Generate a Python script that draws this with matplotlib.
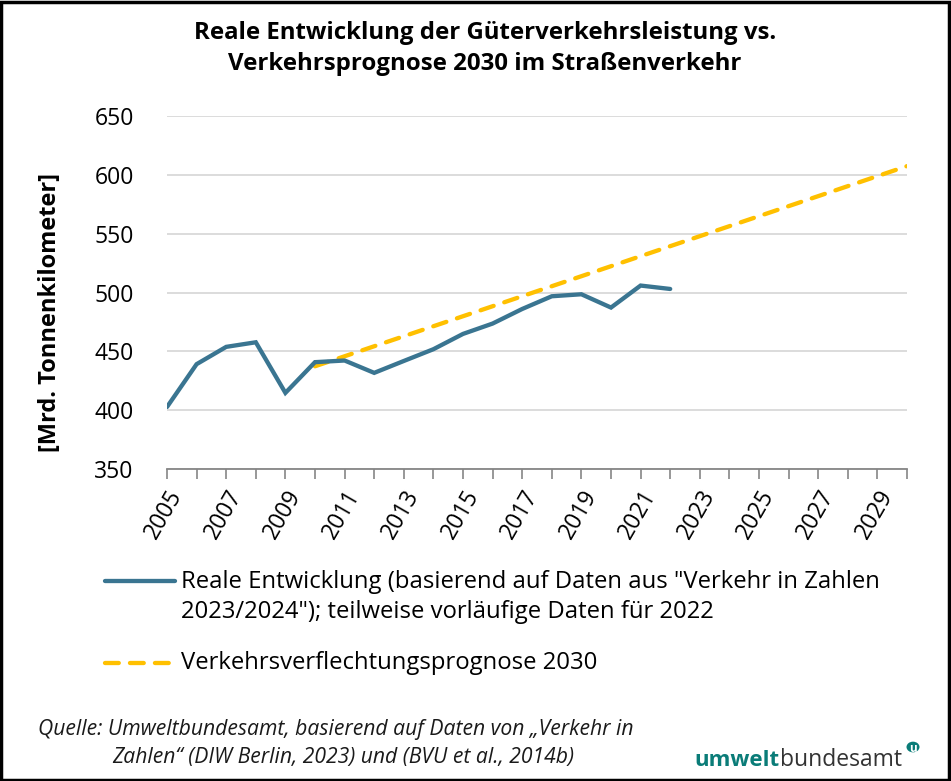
import matplotlib
matplotlib.use("Agg")
import matplotlib.pyplot as plt
from matplotlib.patches import Rectangle, Circle
from matplotlib.lines import Line2D

plt.rcParams['font.family'] = ['Open Sans', 'DejaVu Sans']

# Güterverkehrsleistung Straße, Mrd. tkm
years = [2005, 2006, 2007, 2008, 2009, 2010, 2011, 2012, 2013, 2014,
         2015, 2016, 2017, 2018, 2019, 2020, 2021, 2022]
real_tkm = [402.7, 439.1, 453.8, 457.7, 414.7, 440.8, 442.2, 431.7, 441.8, 451.8,
            464.8, 473.6, 486.0, 496.8, 498.5, 487.2, 505.9, 503.0]

# Verkehrsverflechtungsprognose: Basisjahr und Zieljahr
prog_years = [2010, 2030]
prog_tkm = [437.3, 607.4]

label_real = ('Reale Entwicklung (basierend auf Daten aus "Verkehr in Zahlen\n'
              '2023/2024"); teilweise vorläufige Daten für 2022')
label_prog = 'Verkehrsverflechtungsprognose 2030'

blue = '#3A7591'
gold = '#FFC000'

W, H = 951, 781


def fx(px):
    return px / W


def fy(py):
    return 1 - py / H


fig = plt.figure(figsize=(9.51, 7.81), dpi=100)
ax = fig.add_axes([fx(167), fy(469), 740 / W, 353 / H])

ax.plot(years, real_tkm, color=blue, lw=3.1, solid_capstyle='round',
        solid_joinstyle='miter', zorder=3)
ax.plot(prog_years, prog_tkm, color=gold, lw=3.1, dashes=(3.2, 2.6),
        dash_capstyle='round', zorder=2)

ax.set_xlim(2005, 2030)
ax.set_ylim(350, 650)
ax.set_yticks(range(350, 651, 50))
ax.set_xticks(range(2005, 2031))
ax.set_xticklabels([str(y) if (y - 2005) % 2 == 0 else '' for y in range(2005, 2031)],
                   rotation=60, ha='right', va='top', rotation_mode='anchor')
ax.grid(axis='y', color='#D9D9D9', lw=1.3)
ax.set_axisbelow(True)
for s in ['top', 'right', 'left']:
    ax.spines[s].set_visible(False)
ax.spines['bottom'].set_color('#868686')
ax.spines['bottom'].set_linewidth(1.3)
ax.tick_params(axis='x', direction='out', length=7, width=1.2, color='#868686',
               labelsize=16.5, pad=5)
ax.tick_params(axis='y', length=0, labelsize=16.5, pad=24)
ax.set_ylabel('[Mrd. Tonnenkilometer]', fontsize=17, fontweight='bold',
              va='center')
ax.yaxis.set_label_coords((50 - 167) / 740, (469 - 312) / 353)

fig.text(0.51, fy(48.5), 'Reale Entwicklung der Güterverkehrsleistung vs.\n'
         'Verkehrsprognose 2030 im Straßenverkehr',
         ha='center', va='center', fontsize=17.3, fontweight='bold', linespacing=1.4)

# Legende
fig.add_artist(Line2D([fx(105), fx(175)], [fy(581), fy(581)], color=blue, lw=3.1,
                      solid_capstyle='round'))
fig.add_artist(Line2D([fx(105), fx(175)], [fy(663), fy(663)], color=gold, lw=3.1,
                      dashes=(3.2, 2.6), dash_capstyle='round'))
fig.text(fx(181), fy(597), label_real, ha='left', va='center', fontsize=17.2,
         linespacing=1.33)
fig.text(fx(181), fy(663), label_prog, ha='left', va='center', fontsize=17.2)

fig.text(fx(38), fy(729), 'Quelle: Umweltbundesamt, basierend auf Daten von „Verkehr in',
         ha='left', va='center', fontsize=15.2, style='italic', color='#1a1a1a')
fig.text(fx(112), fy(758), 'Zahlen“ (DIW Berlin, 2023) und (BVU et al., 2014b)',
         ha='left', va='center', fontsize=15.2, style='italic', color='#1a1a1a')

# Logo
fig.text(fx(780), fy(766), 'umwelt', ha='right', va='baseline', fontsize=16,
         fontweight='bold', color='#0A7C78')
fig.text(fx(780), fy(766), 'bundesamt', ha='left', va='baseline', fontsize=16.5,
         color='#333333')
fig.patches.append(Circle((fx(913), fy(747)), 6.5 / W, transform=fig.transFigure,
                          facecolor='#0A7C78', edgecolor='none'))
fig.text(fx(913), fy(748), 'u', ha='center', va='center', fontsize=8.5,
         fontweight='bold', color='white')

fig.patches.append(Rectangle((0.001, 0.001), 0.997, 0.996, transform=fig.transFigure,
                             fill=False, edgecolor='black', lw=2.5))

fig.savefig('out.png', dpi=100)
